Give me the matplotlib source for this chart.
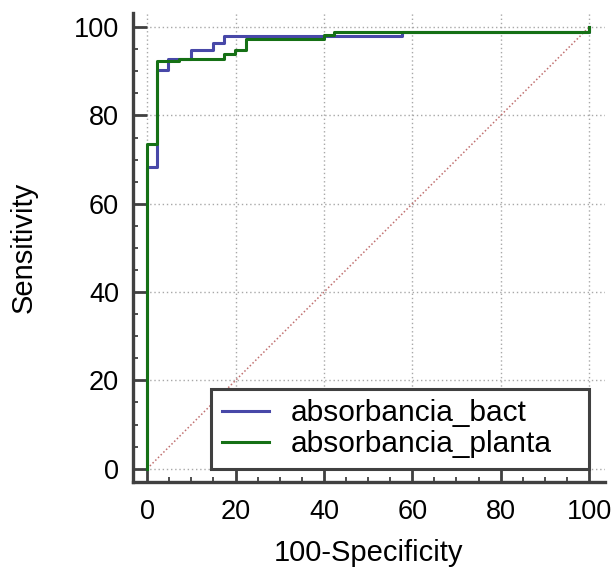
import matplotlib
matplotlib.use("Agg")
import matplotlib.pyplot as plt
from matplotlib.ticker import MultipleLocator

plt.rcParams['font.family'] = ['Liberation Sans', 'DejaVu Sans']

# ROC step points (100-Specificity, Sensitivity)
bact_x = [0, 0, 2.2, 4.8, 10.0, 15.0, 17.3, 57.6, 100, 100]
bact_y = [0, 68.4, 90.4, 92.9, 94.8, 96.5, 98.0, 99.0, 99.0, 100]

planta_x = [0, 0, 2.2, 7.3, 17.3, 19.9, 22.4, 40.0, 42.3, 100, 100]
planta_y = [0, 73.5, 92.4, 92.9, 93.9, 94.9, 97.3, 98.2, 99.0, 99.0, 100]

diag_x = [0, 100]
diag_y = [0, 100]

labels = ["absorbancia_bact", "absorbancia_planta"]
ticks = [0, 20, 40, 60, 80, 100]

fig = plt.figure(figsize=(6.15, 5.67), dpi=100)
ax = fig.add_axes([0.2163, 0.150, 0.7674, 0.827])

ax.plot(diag_x, diag_y, color="#c07070", lw=1.1, linestyle=(0, (1, 1.5)), zorder=2)
ax.step(bact_x, bact_y, where="post", color="#4848a8", lw=2.2, label=labels[0], zorder=3)
ax.step(planta_x, planta_y, where="post", color="#157015", lw=2.2, label=labels[1], zorder=4)

ax.set_xlim(-3.2, 103.6)
ax.set_ylim(-3.0, 103.2)
ax.set_xticks(ticks)
ax.set_yticks(ticks)
ax.xaxis.set_minor_locator(MultipleLocator(5))
ax.yaxis.set_minor_locator(MultipleLocator(5))

ax.grid(True, which="major", color="#a8a8a8", lw=1.0, linestyle=(0, (1, 2)), zorder=1)

for side in ["top", "right"]:
    ax.spines[side].set_visible(False)
for side in ["left", "bottom"]:
    ax.spines[side].set_color("#404040")
    ax.spines[side].set_linewidth(2.4)

ax.tick_params(which="major", direction="in", length=10, width=2, color="#404040",
               labelsize=19.5, pad=12)
ax.tick_params(which="minor", direction="in", length=3.5, width=1.3, color="#404040")
ax.tick_params(axis="y", which="major", pad=10)

ax.set_xlabel("100-Specificity", fontsize=21, labelpad=10)
ax.set_ylabel("Sensitivity", fontsize=21, labelpad=26)

# legend box spans x 14.5..100 and y 0..20 in data units
leg = ax.legend(loc="lower left", bbox_to_anchor=(14.5, 0, 85.5, 19.9),
                bbox_transform=ax.transData, mode="expand",
                borderaxespad=0, fontsize=21.5, handlelength=1.6, handletextpad=0.7,
                borderpad=0.35, labelspacing=0.1, fancybox=False, framealpha=1)
leg.get_frame().set_edgecolor("#404040")
leg.get_frame().set_linewidth(2.2)
leg.set_zorder(5)

fig.savefig("out.png", dpi=100)
